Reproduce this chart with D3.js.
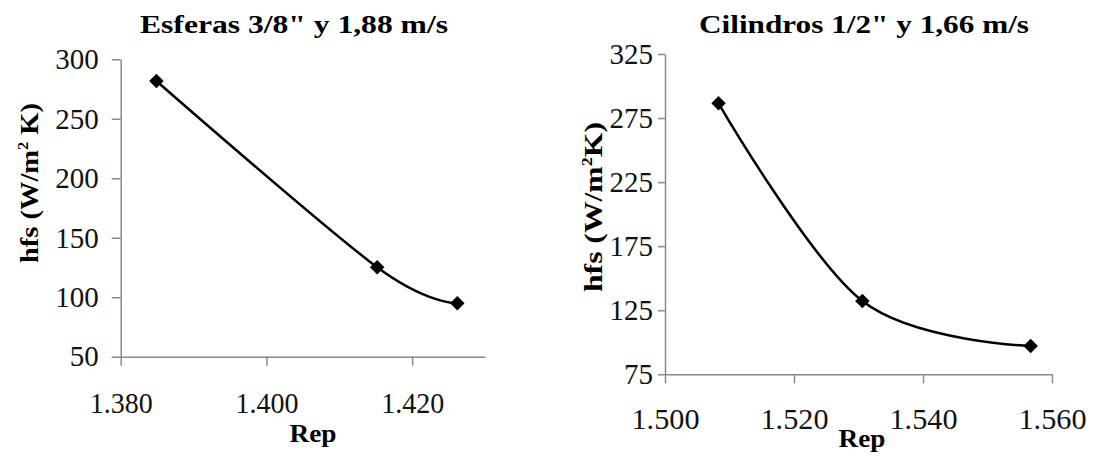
<!DOCTYPE html>
<html>
<head>
<meta charset="utf-8">
<script src="https://cdn.jsdelivr.net/npm/d3@7"></script>
<style>
  body { margin: 0; background: #fff; }
</style>
</head>
<body>
<script>
const width = 1103;
const height = 457;
const serif = '"Liberation Serif", "Times New Roman", serif';

// Esferas 3/8" y 1,88 m/s
const esferasRep = [1384.9, 1415.2, 1426.2];
const esferasHfs = [281.8, 125.2, 95.0];
const esferasXTicks = [1380, 1400, 1420];
const esferasYTicks = [50, 100, 150, 200, 250, 300];

// Cilindros 1/2" y 1,66 m/s
const cilindrosRep = [1508.3, 1530.6, 1556.7];
const cilindrosHfs = [286.5, 132.2, 97.1];
const cilindrosXTicks = [1500, 1520, 1540, 1560];
const cilindrosYTicks = [75, 125, 175, 225, 275, 325];

const es = d3.formatLocale({decimal: ",", thousands: ".", grouping: [3], currency: ["", ""]});
const fmt = es.format(",");

const svg = d3.select("body")
    .append("svg")
    .attr("width", width)
    .attr("height", height);

function drawChart(cfg) {
  const g = svg.append("g");

  const x = d3.scaleLinear().domain(cfg.xDomain).range(cfg.xRange);
  const y = d3.scaleLinear().domain(cfg.yDomain).range(cfg.yRange);

  //y axis
  const yAxis = g.append("g")
      .attr("transform", `translate(${cfg.xRange[0]},0)`)
      .call(d3.axisLeft(y).tickValues(cfg.yTicks).tickFormat(d3.format("d"))
        .tickSize(cfg.yTickSize).tickSizeOuter(0).tickPadding(cfg.yPad));
  yAxis.select(".domain").attr("stroke", "#8a8a8a").attr("stroke-width", 1.5);
  yAxis.selectAll(".tick line").attr("stroke", "#8a8a8a").attr("stroke-width", 1.5);
  yAxis.selectAll("text")
      .style("font-family", serif)
      .attr("font-size", 29)
      .attr("fill", "#111");

  //x axis
  const xAxis = g.append("g")
      .attr("transform", `translate(0,${cfg.yRange[0]})`)
      .call(d3.axisBottom(x).tickValues(cfg.xTicks).tickFormat(fmt)
        .tickSize(9).tickSizeOuter(0).tickPadding(cfg.xPad));
  xAxis.select(".domain").attr("stroke", "#8a8a8a").attr("stroke-width", 1.5);
  xAxis.selectAll(".tick line").attr("stroke", "#8a8a8a").attr("stroke-width", 1.5);
  xAxis.selectAll("text")
      .style("font-family", serif)
      .attr("font-size", 29)
      .attr("fill", "#111")
      .attr("textLength", cfg.xLabLen)
      .attr("lengthAdjust", "spacingAndGlyphs");

  const pts = cfg.rep.map((r, i) => [x(r), y(cfg.hfs[i])]);

  //smoothed line
  g.append("path")
      .attr("d", d3.line().curve(d3.curveCatmullRom.alpha(0))(pts))
      .attr("fill", "none")
      .attr("stroke", "#000")
      .attr("stroke-width", 2.5);

  //diamond markers
  g.selectAll(".pt")
    .data(pts)
    .enter()
    .append("path")
      .attr("class", "pt")
      .attr("transform", d => `translate(${d[0]},${d[1]}) rotate(45)`)
      .attr("d", d3.symbol(d3.symbolSquare, 105)())
      .attr("fill", "#000");

  //title
  g.append("text")
      .attr("x", cfg.titleX)
      .attr("y", 33)
      .attr("text-anchor", "middle")
      .style("font-family", serif)
      .attr("font-weight", "bold")
      .attr("font-size", 25)
      .attr("textLength", cfg.titleLen)
      .attr("lengthAdjust", "spacingAndGlyphs")
      .text(cfg.title);

  //x label
  g.append("text")
      .attr("x", cfg.repX)
      .attr("y", cfg.repY)
      .attr("text-anchor", "middle")
      .style("font-family", serif)
      .attr("font-weight", "bold")
      .attr("font-size", 26)
      .attr("textLength", 47)
      .attr("lengthAdjust", "spacingAndGlyphs")
      .text("Rep");

  //y label
  const yl = g.append("text")
      .attr("transform", `translate(${cfg.ylX},${cfg.ylY}) rotate(-90)`)
      .attr("text-anchor", "middle")
      .style("font-family", serif)
      .attr("font-weight", "bold")
      .attr("font-size", 26)
      .attr("textLength", cfg.ylLen)
      .attr("lengthAdjust", "spacingAndGlyphs");
  yl.append("tspan").text("hfs (W/m");
  yl.append("tspan").attr("dy", -10).attr("font-size", 15).text("2");
  yl.append("tspan").attr("dy", 10).text(cfg.ylTail);
}

drawChart({
  rep: esferasRep, hfs: esferasHfs,
  xTicks: esferasXTicks, yTicks: esferasYTicks,
  xDomain: [1380, 1430], xRange: [120.7, 485],
  yDomain: [50, 300], yRange: [356.7, 59.3],
  yTickSize: 9, yPad: 13, xPad: 27, xLabLen: 63,
  title: "Esferas 3/8\" y 1,88 m/s", titleX: 294, titleLen: 308,
  repX: 313, repY: 442,
  ylX: 38, ylY: 183, ylLen: 160, ylTail: " K)"
});

drawChart({
  rep: cilindrosRep, hfs: cilindrosHfs,
  xTicks: cilindrosXTicks, yTicks: cilindrosYTicks,
  xDomain: [1500, 1560], xRange: [665, 1052],
  yDomain: [75, 325], yRange: [374.3, 54],
  yTickSize: 7, yPad: 5, xPad: 25, xLabLen: 68,
  title: "Cilindros 1/2\" y 1,66 m/s", titleX: 864, titleLen: 330,
  repX: 862, repY: 447,
  ylX: 602, ylY: 207, ylLen: 170, ylTail: "K)"
});
</script>
</body>
</html>
